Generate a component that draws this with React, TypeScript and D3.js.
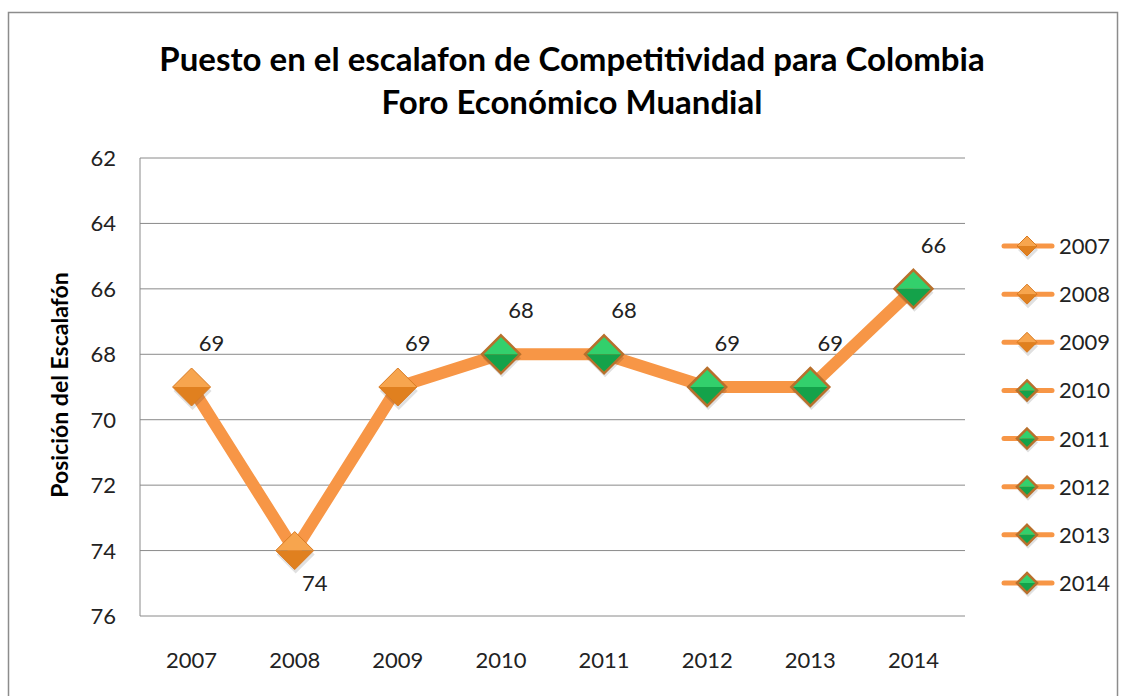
import React from "react";
import * as d3 from "d3";

const years = ["2007", "2008", "2009", "2010", "2011", "2012", "2013", "2014"];
const positions = [69, 74, 69, 68, 68, 69, 69, 66];
const markerKinds = ["orange", "orange", "orange", "green", "green", "green", "green", "green"];
const yTicks = [62, 64, 66, 68, 70, 72, 74, 76];
const titleLines = ["Puesto en el escalafon de Competitividad para Colombia", "Foro Económico Muandial"];
const yTitle = "Posición del Escalafón";

const W = 1124, H = 696;
const M = { left: 140, right: 965, top: 158, bottom: 616 };
const FONT = "Lato, 'Open Sans', sans-serif";
const LINE = "#F79646";

const palettes: Record<string, { top: string; bottom: string; stroke: string }> = {
  orange: { top: "#F7A54E", bottom: "#E0801F", stroke: "#D87A22" },
  green: { top: "#33D06C", bottom: "#14A24A", stroke: "#B8702C" },
};

function Marker({ x, y, kind, r }: { x: number; y: number; kind: string; r: number }) {
  const p = palettes[kind];
  return (
    <g>
      <path
        d={`M${x},${y - r + 3} L${x + r},${y + 3} L${x},${y + r + 3} L${x - r},${y + 3} Z`}
        fill="rgba(0,0,0,0.12)"
        transform={`translate(1,1)`}
      />
      <path d={`M${x - r},${y} L${x},${y - r} L${x + r},${y} Z`} fill={p.top} />
      <path d={`M${x - r},${y} L${x},${y + r} L${x + r},${y} Z`} fill={p.bottom} />
      <path
        d={`M${x},${y - r} L${x + r},${y} L${x},${y + r} L${x - r},${y} Z`}
        fill="none"
        stroke={p.stroke}
        strokeWidth={kind === "green" ? 2.5 : 1}
      />
    </g>
  );
}

export default function App() {
  const x = d3.scaleBand<string>().domain(years).range([M.left, M.right]);
  const y = d3.scaleLinear().domain([62, 76]).range([M.top, M.bottom]);
  const cx = (d: string) => (x(d) as number) + x.bandwidth() / 2;
  const line = d3
    .line<number>()
    .x((_, i) => cx(years[i]))
    .y((d) => y(d));

  const legendY = d3.scalePoint<string>().domain(years).range([246, 583]);

  return (
    <svg width={W} height={H} style={{ position: "absolute", left: 0, top: 0, fontFamily: FONT }}>
      <rect x={0} y={0} width={W} height={H} fill="#fff" />
      <rect x={8.5} y={12.5} width={1109} height={700} fill="#fff" stroke="#8c8c8c" strokeWidth={1.5} />
      {titleLines.map((t, i) => (
        <text key={i} x={572} y={71 + i * 43} textAnchor="middle" fontSize={33} fontWeight="bold" fill="#000">
          {t}
        </text>
      ))}
      {yTicks.map((t) => (
        <g key={t}>
          <line x1={M.left} x2={M.right} y1={y(t)} y2={y(t)} stroke="#8a8a8a" strokeWidth={1} />
          <text x={116} y={y(t) + 8} textAnchor="end" fontSize={22} fill="#222">
            {t}
          </text>
        </g>
      ))}
      <line x1={M.left} x2={M.left} y1={M.top} y2={M.bottom} stroke="#8a8a8a" strokeWidth={1} />
      {years.map((yr) => (
        <text key={yr} x={cx(yr)} y={668} textAnchor="middle" fontSize={22} fill="#222">
          {yr}
        </text>
      ))}
      <text
        transform={`translate(68,385) rotate(-90)`}
        textAnchor="middle"
        fontSize={23}
        fontWeight="bold"
        fill="#000"
      >
        {yTitle}
      </text>
      <path d={line(positions) || ""} fill="none" stroke={LINE} strokeWidth={12} strokeLinejoin="round" />
      {positions.map((v, i) => (
        <Marker key={i} x={cx(years[i])} y={y(v)} kind={markerKinds[i]} r={19} />
      ))}
      {positions.map((v, i) => {
        const below = i > 0 && i < positions.length - 1 && v > positions[i - 1] && v > positions[i + 1];
        return (
          <text
            key={"l" + i}
            x={cx(years[i]) + 20}
            y={y(v) + (below ? 40 : -36)}
            textAnchor="middle"
            fontSize={22}
            fill="#222"
          >
            {v}
          </text>
        );
      })}
      {years.map((yr, i) => {
        const ly = legendY(yr) as number;
        return (
          <g key={"lg" + yr}>
            <line x1={1004} x2={1052} y1={ly} y2={ly} stroke={LINE} strokeWidth={5} strokeLinecap="round" />
            <Marker x={1027} y={ly} kind={markerKinds[i]} r={10} />
            <text x={1059} y={ly + 8} fontSize={22} fill="#222">
              {yr}
            </text>
          </g>
        );
      })}
    </svg>
  );
}
